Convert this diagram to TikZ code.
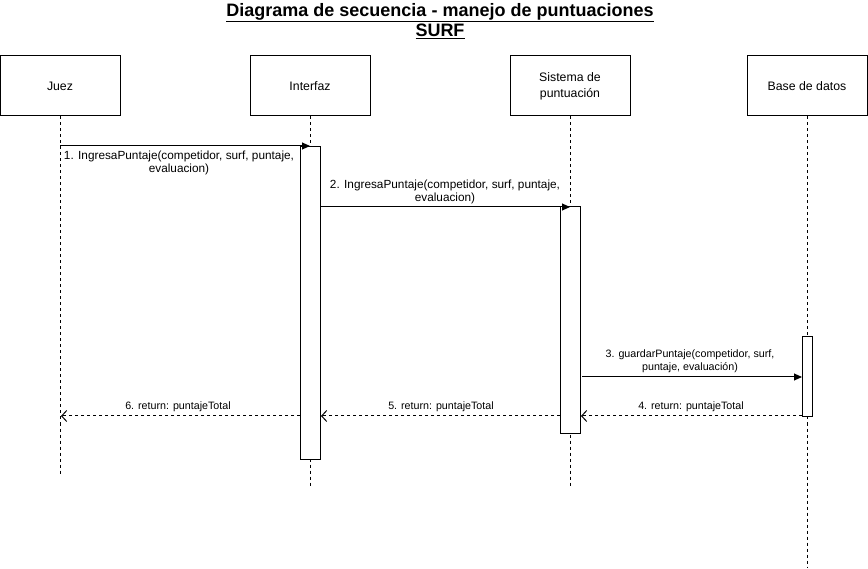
\documentclass[tikz,border=0pt]{standalone}
\usepackage{fontspec}
\setmainfont{Liberation Sans}
\usetikzlibrary{arrows.meta}
\begin{document}
\begin{tikzpicture}[x=1pt,y=-1pt,
 actor/.style={draw, line width=1pt, minimum width=120pt, minimum height=60pt, inner sep=0pt, align=center, font=\fontsize{12.3}{16}\selectfont},
 life/.style={dash pattern=on 3pt off 3pt, line width=1pt},
 act/.style={draw, fill=white, line width=1pt, inner sep=0pt, anchor=north},
 call/.style={-{Triangle[length=8pt,width=7pt]}, line width=1pt},
 ret/.style={dash pattern=on 3pt off 3pt, -{Straight Barb[length=5pt,width=11pt]}, line width=1pt},
 lbl/.style={font=\fontsize{11.8}{13.5}\selectfont, align=center, inner sep=0pt},
 slbl/.style={font=\fontsize{10.7}{13}\selectfont, align=center, inner sep=0pt}]
\useasboundingbox (0,0) rectangle (868,569);
% title
\node[font=\fontsize{18}{20}\bfseries, align=center, inner sep=0pt] (title) at (440,21)
  {\underline{Diagrama de secuencia - manejo de puntuaciones}\\\underline{SURF}};
% actors
\node[actor] (juez) at (60,86) {Juez};
\node[actor] (interfaz) at (310,86) {Interfaz};
\node[actor] (sistema) at (570,86) {Sistema de\\puntuación};
\node[actor] (base) at (807,86) {Base de datos};
% lifelines
\coordinate (juezEnd) at (60,476);
\coordinate (interfazEnd) at (310,487);
\coordinate (sistemaEnd) at (570,487);
\coordinate (baseEnd) at (807,567);
\draw[life] (juez.south) -- (juezEnd);
\draw[life] (interfaz.south) -- (interfazEnd);
\draw[life] (sistema.south) -- (sistemaEnd);
\draw[life] (base.south) -- (baseEnd);
% activations
\node[act, minimum width=20pt, minimum height=313pt] (actI) at (310,146) {};
\node[act, minimum width=20pt, minimum height=227pt] (actS) at (570,206) {};
\node[act, minimum width=10pt, minimum height=80pt] (actB) at (807,336) {};
% message points
\coordinate (m1s) at (60,146);
\coordinate (m1e) at (310,146);
\coordinate (m2s) at (321,207);
\coordinate (m2e) at (570,207);
\coordinate (m3s) at (582,377);
\coordinate (m3e) at (802,377);
\coordinate (r4s) at (802,416);
\coordinate (r4e) at (581,416);
\coordinate (r5s) at (560,416);
\coordinate (r5e) at (321,416);
\coordinate (r6s) at (300,416);
\coordinate (r6e) at (61,416);
% messages
\draw[call] (m1s) -- (m1e);
\draw[call] (m2s) -- (m2e);
\draw[call] (m3s) -- (m3e);
\draw[ret] (r4s) -- (r4e);
\draw[ret] (r5s) -- (r5e);
\draw[ret] (r6s) -- (r6e);
% labels
\node[lbl] (l1) at (179,163) {1. IngresaPuntaje(competidor, surf, puntaje,\\evaluacion)};
\node[lbl] (l2) at (445,192) {2. IngresaPuntaje(competidor, surf, puntaje,\\evaluacion)};
\node[slbl] (l3) at (690,361) {3. guardarPuntaje(competidor, surf,\\puntaje, evaluación)};
\node[slbl] (l4) at (691,407) {4. return: puntajeTotal};
\node[slbl] (l5) at (441,407) {5. return: puntajeTotal};
\node[slbl] (l6) at (178,407) {6. return: puntajeTotal};
\end{tikzpicture}
\end{document}
